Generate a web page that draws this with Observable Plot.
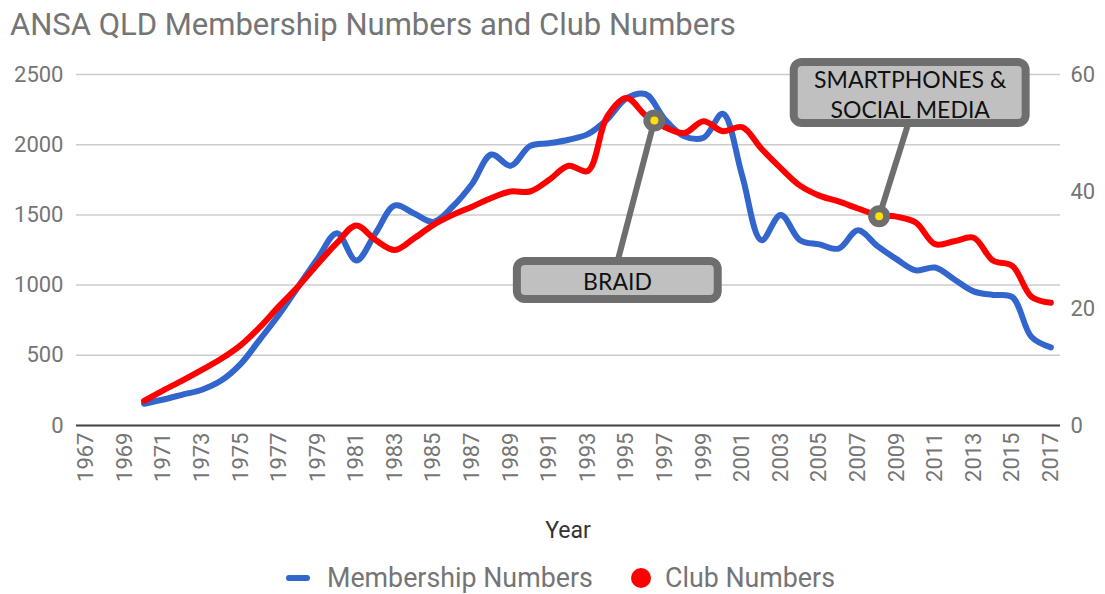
<!DOCTYPE html>
<html><head><meta charset="utf-8">
<script src="https://cdn.jsdelivr.net/npm/d3@7"></script>
<script src="https://cdn.jsdelivr.net/npm/@observablehq/plot@0.6"></script>
<style>
body{margin:0;background:#fff;}
#wrap{position:relative;width:1105px;height:594px;overflow:hidden;font-family:Roboto,sans-serif;}
#title{position:absolute;left:10px;top:9px;font-size:31px;line-height:31px;color:#757575;white-space:nowrap;}
#chart{position:absolute;left:0;top:0;}
#xlabel{position:absolute;left:0;width:1136px;top:519px;text-align:center;font-size:23px;line-height:23px;color:#333;}
.lg{position:absolute;font-size:26.8px;line-height:27px;color:#757575;white-space:nowrap;top:565px;}
.sw{position:absolute;}
</style></head>
<body><div id="wrap">
<div id="chart"></div>
<div id="title">ANSA QLD Membership Numbers and Club Numbers</div>
<div id="xlabel">Year</div>
<div class="sw" style="left:286px;top:575px;width:24px;height:6px;border-radius:3px;background:#3366cc"></div>
<div class="lg" style="left:327px">Membership Numbers</div>
<div class="sw" style="left:631px;top:568px;width:20px;height:20px;border-radius:10px;background:#ff0000"></div>
<div class="lg" style="left:665px">Club Numbers</div>
</div>
<script>
const years = d3.range(1970, 2018);
const membership = [155,185,220,255,320,437,612,790,990,1190,1370,1175,1370,1567,1510,1450,1560,1720,1930,1850,1990,2010,2035,2075,2180,2330,2360,2180,2060,2050,2220,1780,1320,1500,1320,1290,1260,1390,1280,1185,1105,1125,1040,955,930,915,630,556];
const clubs = [4.2,6.0,7.7,9.5,11.4,13.7,16.8,20.4,23.8,27.6,31.2,34.2,31.7,30,32,34.3,36,37.4,38.9,40,40,42,44.4,43.5,52.8,56,53,51,50,52,50.3,51,47.3,44,41,39.3,38.3,37.1,36,35.7,34.7,31,31.5,32.1,28.2,27.3,22,21];
const xTicks = d3.range(1967, 2018, 2);
const leftTicks = [0,500,1000,1500,2000,2500];
const rightTicks = [0,20,40,60];
const leftMax = 2500, rightMax = 60;
const k = leftMax / rightMax;

// annotations
const noteText = ["BRAID", "SMARTPHONES &\nSOCIAL MEDIA"];
const noteYear = [1994.54, 2009.71];
const noteValue = [1033, 2368];
const boxX1 = [1989.35, 2003.70], boxX2 = [1999.76, 2015.72];
const boxY1 = [897, 2151], boxY2 = [1168, 2585];
const linkYear = [1994.54, 2009.61], linkValue = [1168, 2151];
const pinYear = [1996.45, 2008.1], pinValue = [2172, 1490];

const mem = years.map((y,i)=>({year:y, v:membership[i]}));
const clb = years.map((y,i)=>({year:y, v:clubs[i]*k}));
const notes = noteText.map((t,i)=>({t, x:noteYear[i], y:noteValue[i], x1:boxX1[i], x2:boxX2[i], y1:boxY1[i], y2:boxY2[i], lx:linkYear[i], ly:linkValue[i], px:pinYear[i], py:pinValue[i]}));

const tickStyle = {fontSize:22, fill:"#757575", fontFamily:"Roboto"};
const chart = Plot.plot({
  width:1105, height:594,
  marginLeft:76, marginRight:45, marginTop:74, marginBottom:169,
  style:{fontFamily:"Roboto", background:"white", overflow:"visible"},
  x:{domain:[1966.5, 2017.5]},
  y:{domain:[0, leftMax]},
  marks:[
    Plot.gridY(leftTicks, {stroke:"#cccccc", strokeOpacity:1, strokeWidth:1.5}),
    Plot.ruleY([0], {stroke:"#444", strokeWidth:2}),
    Plot.axisY(leftTicks, {anchor:"left", tickSize:0, tickPadding:13, tickFormat:d=>String(d), ...tickStyle, label:null}),
    Plot.axisY(rightTicks.map(d=>d*k), {anchor:"right", tickSize:0, tickPadding:10, tickFormat:d=>String(Math.round(d/k)), ...tickStyle, label:null}),
    Plot.axisX(xTicks, {anchor:"bottom", tickSize:0, tickPadding:7, tickRotate:-90, tickFormat:d=>String(d), ...tickStyle, label:null}),
    Plot.line(mem, {x:"year", y:"v", stroke:"#3366cc", strokeWidth:6, curve:"catmull-rom", strokeLinecap:"round", strokeLinejoin:"round"}),
    Plot.line(clb, {x:"year", y:"v", stroke:"#ff0000", strokeWidth:6, curve:"catmull-rom", strokeLinecap:"round", strokeLinejoin:"round"}),
    Plot.link(notes, {x1:"lx", y1:"ly", x2:"px", y2:"py", stroke:"#6e6e6e", strokeWidth:6}),
    Plot.rect(notes, {x1:"x1", x2:"x2", y1:"y1", y2:"y2", fill:"#c0c0c0", stroke:"#6e6e6e", strokeWidth:8, rx:8}),
    Plot.text(notes, {x:"x", y:"y", text:"t", fontFamily:"Lato", fontSize:23, fill:"#111", lineHeight:1.3, textAnchor:"middle", lineAnchor:"middle"}),
    Plot.dot(notes, {x:"px", y:"py", r:11, fill:"#6e6e6e"}),
    Plot.dot(notes, {x:"px", y:"py", r:4, fill:"#ffe000"})
  ]
});
document.getElementById("chart").appendChild(chart);
</script>
</body></html>
